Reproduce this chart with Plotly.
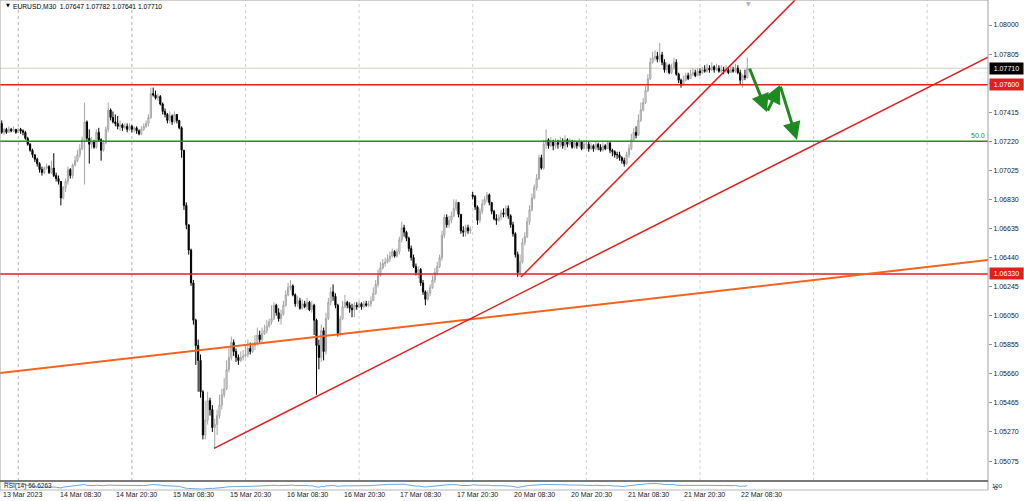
import plotly.graph_objects as go
import pandas as pd

# ---------------- data (EURUSD M30, bars 13 Mar 20:30 .. 22 Mar 10:00) ----------------
open_ = [
 1.0734, 1.0728, 1.0730, 1.0728, 1.0730, 1.0729, 1.0730, 1.0728, 1.0730, 1.0729,
 1.0728, 1.0724, 1.0720, 1.0716, 1.0713, 1.0710, 1.0707, 1.0703, 1.0701, 1.0704,
 1.0705, 1.0701, 1.0704, 1.0699, 1.0697, 1.0695, 1.0684, 1.0691, 1.0695, 1.0703,
 1.0699, 1.0706, 1.0709, 1.0713, 1.0717, 1.0723, 1.0735, 1.0724, 1.0720, 1.0722,
 1.0718, 1.0728, 1.0723, 1.0716, 1.0721, 1.0730, 1.0743, 1.0738, 1.0735, 1.0734,
 1.0732, 1.0733, 1.0731, 1.0732, 1.0730, 1.0732, 1.0730, 1.0731, 1.0729, 1.0727,
 1.0730, 1.0732, 1.0734, 1.0738, 1.0754, 1.0753, 1.0751, 1.0752, 1.0747, 1.0742,
 1.0740, 1.0736, 1.0739, 1.0735, 1.0740, 1.0736, 1.0731, 1.0716, 1.0679, 1.0666,
 1.0649, 1.0627, 1.0602, 1.0585, 1.0575, 1.0554, 1.0525, 1.0535, 1.0548, 1.0542,
 1.0530, 1.0532, 1.0538, 1.0545, 1.0552, 1.0556, 1.0569, 1.0577, 1.0587, 1.0581,
 1.0577, 1.0575, 1.0577, 1.0578, 1.0579, 1.0583, 1.0581, 1.0585, 1.0587, 1.0592,
 1.0589, 1.0593, 1.0595, 1.0598, 1.0601, 1.0603, 1.0612, 1.0607, 1.0603, 1.0606,
 1.0612, 1.0619, 1.0624, 1.0625, 1.0619, 1.0613, 1.0615, 1.0610, 1.0613, 1.0611,
 1.0614, 1.0609, 1.0612, 1.0602, 1.0585, 1.0577, 1.0595, 1.0581, 1.0603, 1.0614,
 1.0621, 1.0618, 1.0612, 1.0593, 1.0603, 1.0611, 1.0614, 1.0612, 1.0610, 1.0609,
 1.0612, 1.0611, 1.0613, 1.0611, 1.0613, 1.0612, 1.0613, 1.0615, 1.0620, 1.0626,
 1.0632, 1.0637, 1.0640, 1.0641, 1.0643, 1.0645, 1.0648, 1.0645, 1.0648, 1.0656,
 1.0664, 1.0661, 1.0657, 1.0650, 1.0644, 1.0638, 1.0634, 1.0636, 1.0627, 1.0621,
 1.0616, 1.0620, 1.0624, 1.0629, 1.0634, 1.0638, 1.0644, 1.0659, 1.0671, 1.0666,
 1.0669, 1.0672, 1.0677, 1.0681, 1.0673, 1.0662, 1.0661, 1.0664, 1.0662, 1.0686,
 1.0685, 1.0678, 1.0669, 1.0675, 1.0680, 1.0683, 1.0686, 1.0681, 1.0675, 1.0670,
 1.0669, 1.0671, 1.0674, 1.0673, 1.0677, 1.0672, 1.0666, 1.0660, 1.0646, 1.0634,
 1.0641, 1.0654, 1.0658, 1.0668, 1.0676, 1.0684, 1.0691, 1.0697, 1.0711, 1.0704,
 1.0720, 1.0723, 1.0719, 1.0722, 1.0719, 1.0721, 1.0720, 1.0722, 1.0719, 1.0723,
 1.0720, 1.0722, 1.0718, 1.0721, 1.0719, 1.0722, 1.0717, 1.0720, 1.0720, 1.0717,
 1.0719, 1.0717, 1.0720, 1.0718, 1.0716, 1.0719, 1.0717, 1.0721, 1.0716, 1.0715,
 1.0713, 1.0713, 1.0711, 1.0709, 1.0707, 1.0713, 1.0717, 1.0723, 1.0728, 1.0726,
 1.0736, 1.0743, 1.0748, 1.0756, 1.0764, 1.0775, 1.0778, 1.0779, 1.0777, 1.0780,
 1.0775, 1.0770, 1.0773, 1.0768, 1.0771, 1.0775, 1.0767, 1.0763, 1.0760, 1.0763,
 1.0766, 1.0764, 1.0767, 1.0768, 1.0766, 1.0769, 1.0768, 1.0770, 1.0769, 1.0771,
 1.0770, 1.0772, 1.0770, 1.0771, 1.0769, 1.0770, 1.0769, 1.0770, 1.0768, 1.0770,
 1.0769, 1.0771, 1.0768, 1.0763, 1.0766, 1.07647]

high = [
 1.0736, 1.0731, 1.0731, 1.0732, 1.0731, 1.0732, 1.0730, 1.0731, 1.0731, 1.0730,
 1.0729, 1.0725, 1.0721, 1.0717, 1.0713, 1.0711, 1.0708, 1.0705, 1.0705, 1.0707,
 1.0706, 1.0709, 1.0714, 1.0701, 1.0699, 1.0695, 1.0692, 1.0697, 1.0705, 1.0704,
 1.0707, 1.0712, 1.0716, 1.0720, 1.0725, 1.0748, 1.0736, 1.0730, 1.0725, 1.0723,
 1.0730, 1.0731, 1.0724, 1.0723, 1.0732, 1.0748, 1.0744, 1.0742, 1.0740, 1.0739,
 1.0736, 1.0734, 1.0734, 1.0734, 1.0734, 1.0733, 1.0732, 1.0732, 1.0730, 1.0732,
 1.0734, 1.0736, 1.0740, 1.0758, 1.0758, 1.0756, 1.0754, 1.0753, 1.0748, 1.0744,
 1.0741, 1.0742, 1.0740, 1.0742, 1.0740, 1.0736, 1.0732, 1.0716, 1.0681, 1.0666,
 1.0650, 1.0629, 1.0603, 1.0589, 1.0579, 1.0555, 1.0548, 1.0554, 1.0550, 1.0545,
 1.0536, 1.0542, 1.0552, 1.0556, 1.0563, 1.0575, 1.0584, 1.0591, 1.0589, 1.0583,
 1.0579, 1.0581, 1.0582, 1.0585, 1.0589, 1.0587, 1.0587, 1.0592, 1.0597, 1.0595,
 1.0597, 1.0599, 1.0602, 1.0603, 1.0612, 1.0614, 1.0613, 1.0610, 1.0609, 1.0615,
 1.0622, 1.0627, 1.0629, 1.0626, 1.0620, 1.0618, 1.0617, 1.0616, 1.0615, 1.0617,
 1.0615, 1.0615, 1.0613, 1.0603, 1.0589, 1.0599, 1.0597, 1.0607, 1.0617, 1.0624,
 1.0626, 1.0620, 1.0613, 1.0605, 1.0615, 1.0619, 1.0615, 1.0614, 1.0613, 1.0614,
 1.0614, 1.0615, 1.0614, 1.0615, 1.0615, 1.0615, 1.0618, 1.0624, 1.0629, 1.0636,
 1.0641, 1.0643, 1.0644, 1.0646, 1.0648, 1.0650, 1.0649, 1.0650, 1.0658, 1.0668,
 1.0666, 1.0662, 1.0658, 1.0652, 1.0646, 1.0640, 1.0638, 1.0637, 1.0629, 1.0622,
 1.0622, 1.0626, 1.0632, 1.0637, 1.0641, 1.0646, 1.0662, 1.0673, 1.0673, 1.0672,
 1.0675, 1.0683, 1.0683, 1.0681, 1.0673, 1.0665, 1.0666, 1.0666, 1.0665, 1.0688,
 1.0686, 1.0679, 1.0677, 1.0683, 1.0685, 1.0688, 1.0687, 1.0681, 1.0676, 1.0673,
 1.0673, 1.0676, 1.0677, 1.0679, 1.0679, 1.0673, 1.0668, 1.0661, 1.0648, 1.0646,
 1.0657, 1.0661, 1.0671, 1.0679, 1.0687, 1.0693, 1.0700, 1.0713, 1.0713, 1.0723,
 1.0730, 1.0724, 1.0725, 1.0723, 1.0724, 1.0723, 1.0725, 1.0724, 1.0726, 1.0724,
 1.0724, 1.0723, 1.0723, 1.0722, 1.0724, 1.0722, 1.0723, 1.0723, 1.0722, 1.0721,
 1.0720, 1.0722, 1.0721, 1.0720, 1.0721, 1.0720, 1.0722, 1.0721, 1.0717, 1.0716,
 1.0715, 1.0715, 1.0712, 1.0711, 1.0715, 1.0720, 1.0727, 1.0731, 1.0732, 1.0740,
 1.0748, 1.0751, 1.0759, 1.0767, 1.0778, 1.0782, 1.0783, 1.0782, 1.0788, 1.0782,
 1.0777, 1.0775, 1.0774, 1.0774, 1.0778, 1.0777, 1.0768, 1.0764, 1.0766, 1.0768,
 1.0768, 1.0770, 1.0771, 1.0770, 1.0771, 1.0771, 1.0772, 1.0773, 1.0774, 1.0773,
 1.0775, 1.0773, 1.0774, 1.0773, 1.0773, 1.0772, 1.0773, 1.0771, 1.0773, 1.0772,
 1.0774, 1.0773, 1.0770, 1.0767, 1.0770, 1.07782]

low = [
 1.0727, 1.0726, 1.0727, 1.0728, 1.0728, 1.0728, 1.0727, 1.0728, 1.0727, 1.0726,
 1.0723, 1.0719, 1.0715, 1.0711, 1.0708, 1.0705, 1.0701, 1.0699, 1.0700, 1.0703,
 1.0700, 1.0700, 1.0698, 1.0695, 1.0693, 1.0679, 1.0683, 1.0688, 1.0693, 1.0697,
 1.0697, 1.0705, 1.0708, 1.0711, 1.0716, 1.0693, 1.0722, 1.0707, 1.0717, 1.0717,
 1.0717, 1.0722, 1.0709, 1.0715, 1.0720, 1.0728, 1.0736, 1.0734, 1.0732, 1.0730,
 1.0729, 1.0729, 1.0730, 1.0728, 1.0729, 1.0728, 1.0728, 1.0727, 1.0726, 1.0726,
 1.0729, 1.0731, 1.0732, 1.0737, 1.0752, 1.0750, 1.0749, 1.0746, 1.0740, 1.0738,
 1.0734, 1.0734, 1.0733, 1.0734, 1.0734, 1.0730, 1.0711, 1.0676, 1.0663, 1.0646,
 1.0625, 1.0599, 1.0572, 1.0554, 1.0550, 1.0522, 1.0522, 1.0532, 1.0538, 1.0527,
 1.0516, 1.0525, 1.0536, 1.0542, 1.0550, 1.0555, 1.0567, 1.0575, 1.0578, 1.0574,
 1.0572, 1.0574, 1.0575, 1.0577, 1.0577, 1.0579, 1.0580, 1.0582, 1.0585, 1.0587,
 1.0587, 1.0592, 1.0593, 1.0597, 1.0599, 1.0602, 1.0605, 1.0601, 1.0599, 1.0605,
 1.0611, 1.0618, 1.0622, 1.0618, 1.0611, 1.0611, 1.0609, 1.0609, 1.0610, 1.0609,
 1.0608, 1.0607, 1.0592, 1.0552, 1.0569, 1.0574, 1.0575, 1.0579, 1.0602, 1.0612,
 1.0615, 1.0610, 1.0591, 1.0591, 1.0602, 1.0610, 1.0610, 1.0607, 1.0604, 1.0604,
 1.0609, 1.0610, 1.0609, 1.0610, 1.0611, 1.0611, 1.0611, 1.0615, 1.0619, 1.0624,
 1.0631, 1.0636, 1.0638, 1.0640, 1.0641, 1.0644, 1.0644, 1.0644, 1.0646, 1.0654,
 1.0658, 1.0655, 1.0648, 1.0642, 1.0637, 1.0632, 1.0630, 1.0625, 1.0619, 1.0612,
 1.0615, 1.0618, 1.0623, 1.0627, 1.0632, 1.0637, 1.0642, 1.0657, 1.0664, 1.0664,
 1.0667, 1.0671, 1.0675, 1.0671, 1.0660, 1.0658, 1.0658, 1.0660, 1.0660, 1.0683,
 1.0676, 1.0666, 1.0667, 1.0673, 1.0679, 1.0681, 1.0679, 1.0673, 1.0669, 1.0666,
 1.0668, 1.0669, 1.0671, 1.0671, 1.0670, 1.0664, 1.0658, 1.0644, 1.0631, 1.0631,
 1.0640, 1.0652, 1.0657, 1.0666, 1.0675, 1.0683, 1.0689, 1.0696, 1.0703, 1.0703,
 1.0717, 1.0717, 1.0718, 1.0716, 1.0717, 1.0717, 1.0718, 1.0717, 1.0716, 1.0718,
 1.0719, 1.0717, 1.0717, 1.0717, 1.0718, 1.0716, 1.0717, 1.0717, 1.0715, 1.0716,
 1.0715, 1.0716, 1.0716, 1.0715, 1.0715, 1.0716, 1.0717, 1.0714, 1.0712, 1.0711,
 1.0710, 1.0709, 1.0707, 1.0705, 1.0706, 1.0711, 1.0716, 1.0722, 1.0724, 1.0726,
 1.0735, 1.0742, 1.0747, 1.0755, 1.0763, 1.0774, 1.0776, 1.0775, 1.0775, 1.0773,
 1.0768, 1.0768, 1.0767, 1.0767, 1.0770, 1.0766, 1.0761, 1.0758, 1.0759, 1.0762,
 1.0763, 1.0764, 1.0766, 1.0765, 1.0766, 1.0766, 1.0767, 1.0768, 1.0768, 1.0768,
 1.0769, 1.0768, 1.0769, 1.0768, 1.0768, 1.0767, 1.0768, 1.0767, 1.0768, 1.0768,
 1.0768, 1.0767, 1.0760, 1.0758, 1.0763, 1.07641]

close = [
 1.0728, 1.0730, 1.0728, 1.0730, 1.0729, 1.0730, 1.0728, 1.0730, 1.0729, 1.0728,
 1.0724, 1.0720, 1.0716, 1.0713, 1.0710, 1.0707, 1.0703, 1.0701, 1.0704, 1.0705,
 1.0701, 1.0704, 1.0699, 1.0697, 1.0695, 1.0684, 1.0691, 1.0695, 1.0703, 1.0699,
 1.0706, 1.0709, 1.0713, 1.0717, 1.0723, 1.0735, 1.0724, 1.0720, 1.0722, 1.0718,
 1.0728, 1.0723, 1.0716, 1.0721, 1.0730, 1.0743, 1.0738, 1.0735, 1.0734, 1.0732,
 1.0733, 1.0731, 1.0732, 1.0730, 1.0732, 1.0730, 1.0731, 1.0729, 1.0727, 1.0730,
 1.0732, 1.0734, 1.0738, 1.0754, 1.0753, 1.0751, 1.0752, 1.0747, 1.0742, 1.0740,
 1.0736, 1.0739, 1.0735, 1.0740, 1.0736, 1.0731, 1.0716, 1.0679, 1.0666, 1.0649,
 1.0627, 1.0602, 1.0585, 1.0575, 1.0554, 1.0525, 1.0535, 1.0548, 1.0542, 1.0530,
 1.0532, 1.0538, 1.0545, 1.0552, 1.0556, 1.0569, 1.0577, 1.0587, 1.0581, 1.0577,
 1.0575, 1.0577, 1.0578, 1.0579, 1.0583, 1.0581, 1.0585, 1.0587, 1.0592, 1.0589,
 1.0593, 1.0595, 1.0598, 1.0601, 1.0603, 1.0612, 1.0607, 1.0603, 1.0606, 1.0612,
 1.0619, 1.0624, 1.0625, 1.0619, 1.0613, 1.0615, 1.0610, 1.0613, 1.0611, 1.0614,
 1.0609, 1.0612, 1.0602, 1.0585, 1.0577, 1.0595, 1.0581, 1.0603, 1.0614, 1.0621,
 1.0618, 1.0612, 1.0593, 1.0603, 1.0611, 1.0614, 1.0612, 1.0610, 1.0609, 1.0612,
 1.0611, 1.0613, 1.0611, 1.0613, 1.0612, 1.0613, 1.0615, 1.0620, 1.0626, 1.0632,
 1.0637, 1.0640, 1.0641, 1.0643, 1.0645, 1.0648, 1.0645, 1.0648, 1.0656, 1.0664,
 1.0661, 1.0657, 1.0650, 1.0644, 1.0638, 1.0634, 1.0636, 1.0627, 1.0621, 1.0616,
 1.0620, 1.0624, 1.0629, 1.0634, 1.0638, 1.0644, 1.0659, 1.0671, 1.0666, 1.0669,
 1.0672, 1.0677, 1.0681, 1.0673, 1.0662, 1.0661, 1.0664, 1.0662, 1.0663, 1.0685,
 1.0678, 1.0669, 1.0675, 1.0680, 1.0683, 1.0686, 1.0681, 1.0675, 1.0670, 1.0669,
 1.0671, 1.0674, 1.0673, 1.0677, 1.0672, 1.0666, 1.0660, 1.0646, 1.0634, 1.0641,
 1.0654, 1.0658, 1.0668, 1.0676, 1.0684, 1.0691, 1.0697, 1.0711, 1.0704, 1.0720,
 1.0723, 1.0719, 1.0722, 1.0719, 1.0721, 1.0720, 1.0722, 1.0719, 1.0723, 1.0720,
 1.0722, 1.0718, 1.0721, 1.0719, 1.0722, 1.0717, 1.0720, 1.0720, 1.0717, 1.0719,
 1.0717, 1.0720, 1.0718, 1.0716, 1.0719, 1.0717, 1.0721, 1.0716, 1.0715, 1.0713,
 1.0713, 1.0711, 1.0709, 1.0707, 1.0713, 1.0717, 1.0723, 1.0728, 1.0726, 1.0736,
 1.0743, 1.0748, 1.0756, 1.0764, 1.0775, 1.0778, 1.0779, 1.0777, 1.0780, 1.0775,
 1.0770, 1.0773, 1.0768, 1.0771, 1.0775, 1.0767, 1.0763, 1.0760, 1.0763, 1.0766,
 1.0764, 1.0767, 1.0768, 1.0766, 1.0769, 1.0768, 1.0770, 1.0769, 1.0771, 1.0770,
 1.0772, 1.0770, 1.0771, 1.0769, 1.0770, 1.0769, 1.0770, 1.0768, 1.0770, 1.0769,
 1.0771, 1.0768, 1.0763, 1.0766, 1.07647, 1.07710]

n = len(close)
assert len(open_) == n and len(high) == n and len(low) == n, (len(open_), len(high), len(low), n)
bad = [i for i in range(n) if high[i] < max(open_[i], close[i]) or low[i] > min(open_[i], close[i])]
assert not bad, bad

bar_index = list(range(n))

date_labels = ["13 Mar 2023", "14 Mar 08:30", "14 Mar 20:30", "15 Mar 08:30", "15 Mar 20:30",
               "16 Mar 08:30", "16 Mar 20:30", "17 Mar 08:30", "17 Mar 20:30", "20 Mar 08:30",
               "20 Mar 20:30", "21 Mar 08:30", "21 Mar 20:30", "22 Mar 08:30"]
date_label_bars = [0, 24, 48, 72, 96, 120, 144, 168, 192, 216, 240, 264, 288, 312]
day_start_bars = [7, 55, 103, 151, 199, 247, 295, 343, 391]

price_ticks = [1.08000, 1.07805, 1.07610, 1.07415, 1.07220, 1.07025, 1.06830, 1.06635,
               1.06440, 1.06245, 1.06050, 1.05855, 1.05660, 1.05465, 1.05270, 1.05075]

header_text = "EURUSD,M30  1.07647 1.07782 1.07641 1.07710"
rsi_text = "RSI(14) 56.6263"

support_red_levels = [1.07600, 1.06330]
fibo_level = 1.07220
bid_price = 1.07710

# drawn trend lines: (bar0, price0, bar1, price1)
orange_line = (-0.72, 1.05665, 416.7, 1.06423)
red_trend_low = (89.7, 1.05160, 416.7, 1.07785)
red_trend_steep = (219.4, 1.06310, 335.2, 1.08168)
# green projected path (bar, price)
path_bars = [315.7, 323.3, 328.8, 336.0]
path_prices = [1.07718, 1.07416, 1.07597, 1.07228]

# ---------------- styling / geometry ----------------
RED = "#e0201f"
GREEN = "#2a8a2a"
ORANGE = "#f5641e"
FONT = "Liberation Sans"

px_per_bar = 2.367
x_lo = -1.7 / px_per_bar
x_hi = x_lo + 988 / px_per_bar
price_per_px = 0.00195 / 29.07
p_hi = 1.08 + 25 * price_per_px
p_lo = 1.08 - 456 * price_per_px
PLOT_H = 490.0
main_lo = (PLOT_H - 481) / PLOT_H
rsi_hi = (PLOT_H - 482) / PLOT_H

# RSI(14) from closes (Wilder smoothing)
s = pd.Series(close)
d = s.diff()
up = d.clip(lower=0).ewm(alpha=1 / 14, adjust=False).mean()
dn = (-d.clip(upper=0)).ewm(alpha=1 / 14, adjust=False).mean()
rsi = (100 - 100 / (1 + up / dn)).tolist()

fig = go.Figure()
fig.add_trace(go.Candlestick(
    x=bar_index, open=open_, high=high, low=low, close=close,
    increasing=dict(line=dict(color="#a4a4a4", width=1), fillcolor="#f2f2f2"),
    decreasing=dict(line=dict(color="#000000", width=1), fillcolor="#000000"),
    whiskerwidth=0, hoverinfo="skip", showlegend=False, xaxis="x", yaxis="y"))
fig.add_trace(go.Scatter(x=bar_index, y=rsi, mode="lines",
                         line=dict(color="#6aa6dc", width=1), hoverinfo="skip",
                         showlegend=False, xaxis="x2", yaxis="y2"))

shapes = []
# period separators
for k, b in enumerate(day_start_bars):
    shapes.append(dict(type="line", xref="x", yref="y domain", x0=b, x1=b, y0=0, y1=1,
                       line=dict(color="#b4b4b4" if k < 2 else "#d0d0d0", width=1, dash="dot"),
                       layer="below"))
# bid line
shapes.append(dict(type="line", xref="paper", yref="y", x0=0, x1=1, y0=bid_price, y1=bid_price,
                   line=dict(color="#dccbb8", width=1), layer="below"))
# horizontal levels
for lv in support_red_levels:
    shapes.append(dict(type="line", xref="paper", yref="y", x0=0, x1=1, y0=lv, y1=lv,
                       line=dict(color=RED, width=1.5)))
shapes.append(dict(type="line", xref="paper", yref="y", x0=0, x1=1, y0=fibo_level, y1=fibo_level,
                   line=dict(color=GREEN, width=1.5)))
# trend lines
for (b0, p0, b1, p1), col, w in [(orange_line, ORANGE, 2), (red_trend_low, RED, 1.5),
                                 (red_trend_steep, RED, 1.5)]:
    shapes.append(dict(type="line", xref="x", yref="y", x0=b0, y0=p0, x1=b1, y1=p1,
                       line=dict(color=col, width=w)))
# frame lines
frame = "#a0a0a0"
shapes += [
    dict(type="line", xref="paper", yref="paper", x0=0, x1=1, y0=1, y1=1, line=dict(color=frame, width=1)),
    dict(type="line", xref="paper", yref="paper", x0=0, x1=0, y0=0, y1=1, line=dict(color=frame, width=1)),
    dict(type="line", xref="paper", yref="paper", x0=1, x1=1, y0=0, y1=1, line=dict(color=frame, width=1)),
    dict(type="line", xref="paper", yref="paper", x0=0, x1=1, y0=main_lo, y1=main_lo, line=dict(color="#7a7a7a", width=2)),
    dict(type="line", xref="paper", yref="paper", x0=0, x1=1, y0=0, y1=0, line=dict(color="#b8b8b8", width=1)),
]

ann = []
# header
ann.append(dict(xref="paper", yref="paper", x=4 / 988, y=(PLOT_H - 5) / PLOT_H, text="▼",
                showarrow=False, xanchor="left", yanchor="middle",
                font=dict(family="DejaVu Sans", size=5, color="#000")))
ann.append(dict(xref="paper", yref="paper", x=11 / 988, y=(PLOT_H - 6) / PLOT_H, text=header_text,
                showarrow=False, xanchor="left", yanchor="middle",
                font=dict(family=FONT, size=6.7, color="#000")))
# chart shift marker
ann.append(dict(xref="paper", yref="paper", x=748 / 988, y=(PLOT_H - 4) / PLOT_H, text="▼",
                showarrow=False, xanchor="center", yanchor="middle",
                font=dict(family="DejaVu Sans", size=6, color="#b0b0b0")))
# fibo label
ann.append(dict(xref="paper", yref="y", x=987 / 988, y=fibo_level, text="50.0", showarrow=False,
                xanchor="right", yanchor="bottom", yshift=0,
                font=dict(family=FONT, size=7, color=GREEN)))
# date labels
for lab, b in zip(date_labels, date_label_bars):
    ann.append(dict(xref="x", yref="paper", x=b, y=(PLOT_H - 494.5) / PLOT_H, text=lab,
                    showarrow=False, xanchor="left", yanchor="middle", xshift=-1,
                    font=dict(family=FONT, size=7, color="#222")))
# RSI labels
ann.append(dict(xref="paper", yref="paper", x=2 / 988, y=(PLOT_H - 485.5) / PLOT_H, text=rsi_text,
                showarrow=False, xanchor="left", yanchor="middle",
                font=dict(family=FONT, size=6.5, color="#222")))
ann.append(dict(xref="paper", yref="paper", x=1, y=(PLOT_H - 486) / PLOT_H, text="100",
                showarrow=False, xanchor="left", yanchor="middle", xshift=2,
                font=dict(family=FONT, size=6, color="#222")))
ann.append(dict(xref="paper", yref="paper", x=1, y=(PLOT_H - 488) / PLOT_H, text="0",
                showarrow=False, xanchor="left", yanchor="middle", xshift=4,
                font=dict(family=FONT, size=6, color="#222")))
# price boxes on the axis
for lv, bg in [(bid_price, "#000000"), (support_red_levels[0], RED), (support_red_levels[1], RED)]:
    ann.append(dict(xref="paper", yref="y", x=1, y=lv, text=f"{lv:.5f}", showarrow=False,
                    xanchor="left", yanchor="middle", xshift=1, bgcolor=bg, borderpad=1,
                    width=31, height=9, font=dict(family=FONT, size=7, color="#ffffff")))
# green projected path arrows
for k in range(len(path_bars) - 1):
    ann.append(dict(xref="x", yref="y", axref="x", ayref="y",
                    x=path_bars[k + 1], y=path_prices[k + 1], ax=path_bars[k], ay=path_prices[k],
                    text="", showarrow=True, arrowhead=2, arrowsize=1.2, arrowwidth=3,
                    arrowcolor="#1f8a1f", standoff=0, startstandoff=0))

fig.update_layout(
    width=1024, height=501,
    margin=dict(l=0, r=36, t=0, b=11),
    paper_bgcolor="white", plot_bgcolor="white",
    showlegend=False,
    xaxis=dict(domain=[0, 1], range=[x_lo, x_hi], anchor="y", showticklabels=False,
               showgrid=False, zeroline=False, ticks="", rangeslider=dict(visible=False),
               fixedrange=True),
    yaxis=dict(domain=[main_lo, 1], range=[p_lo, p_hi], side="right", anchor="x",
               tickvals=price_ticks, ticktext=[f"{v:.5f}" for v in price_ticks],
               tickfont=dict(family=FONT, size=7, color="#222"),
               ticks="outside", ticklen=3, tickcolor="#909090",
               showgrid=False, zeroline=False, showline=False, automargin=False),
    xaxis2=dict(domain=[0, 1], matches="x", anchor="y2", visible=False,
                rangeslider=dict(visible=False)),
    yaxis2=dict(domain=[0, rsi_hi], range=[-5, 105], visible=False, anchor="x2"),
    shapes=shapes,
    annotations=ann,
)

fig.write_html("out.html", config={"displayModeBar": False},
               post_script="document.body.style.margin='0';document.body.style.overflow='hidden';")
